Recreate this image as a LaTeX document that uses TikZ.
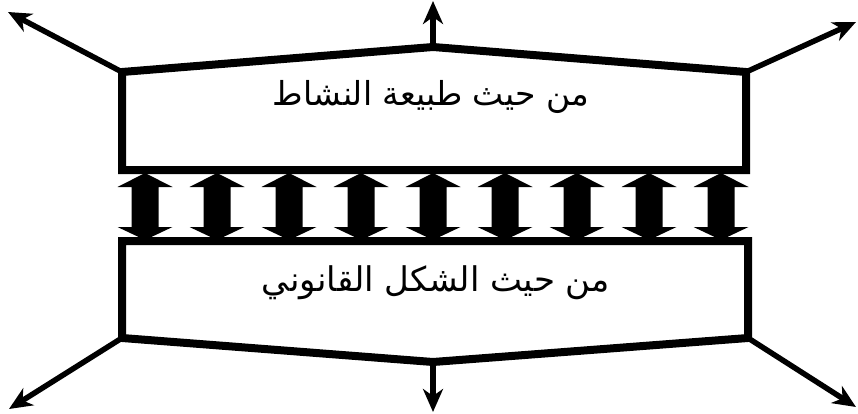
\documentclass[tikz,border=0pt]{standalone}
\usepackage{fontspec}
\usetikzlibrary{arrows.meta}
\newfontfamily\arabicfont[Script=Arabic]{DejaVu Sans}
\TeXXeTstate=1
\begin{document}
\begin{tikzpicture}[x=1pt,y=-1pt,
  boxline/.style={line width=8pt, line join=miter},
  outarrow/.style={line width=5.5pt, -{Stealth[length=23pt,width=20pt,inset=7pt]}},
  label/.style={font=\arabicfont\fontsize{33}{40}\selectfont, inner sep=0pt},
  blockarrow/.style={fill=black}
]
\useasboundingbox (0,0) rectangle (858,414);
% corners of the upper box
\coordinate (tbl) at (122,170);
\coordinate (ttl) at (122,72);
\coordinate (tap) at (433,47);
\coordinate (ttr) at (746,72);
\coordinate (tbr) at (746,170);
% corners of the lower box
\coordinate (btl) at (122,241);
\coordinate (bbl) at (122,338);
\coordinate (bap) at (433,362);
\coordinate (bbr) at (748,338);
\coordinate (btr) at (748,241);
% arrow ends
\coordinate (e1) at (8,12);
\coordinate (e2) at (433,1);
\coordinate (e3) at (856,22);
\coordinate (e4) at (9,409);
\coordinate (e5) at (433,412);
\coordinate (e6) at (856,407);

\draw[boxline] (tbl) -- (ttl) -- (tap) -- (ttr) -- (tbr) -- cycle;
\draw[boxline] (btl) -- (bbl) -- (bap) -- (bbr) -- (btr) -- cycle;

\draw[outarrow] (ttl) -- (e1);
\draw[outarrow] (tap) -- (e2);
\draw[outarrow] (ttr) -- (e3);
\draw[outarrow] (bbl) -- (e4);
\draw[outarrow] (bap) -- (e5);
\draw[outarrow] (bbr) -- (e6);

\foreach \k in {0,...,8}{
  \pgfmathsetmacro{\c}{145+72*\k}
  \fill[blockarrow] (\c,173) -- (\c+27.5,187) -- (\c+13.5,187) -- (\c+13.5,227)
     -- (\c+27.5,227) -- (\c,240) -- (\c-27.5,227) -- (\c-13.5,227)
     -- (\c-13.5,187) -- (\c-27.5,187) -- cycle;
}

\node[label] (top) at (431,97) {\beginR من حيث طبيعة النشاط\endR};
\node[label] (bot) at (436,283) {\fontsize{34}{40}\selectfont\beginR من حيث الشكل القانوني\endR};
\end{tikzpicture}
\end{document}
